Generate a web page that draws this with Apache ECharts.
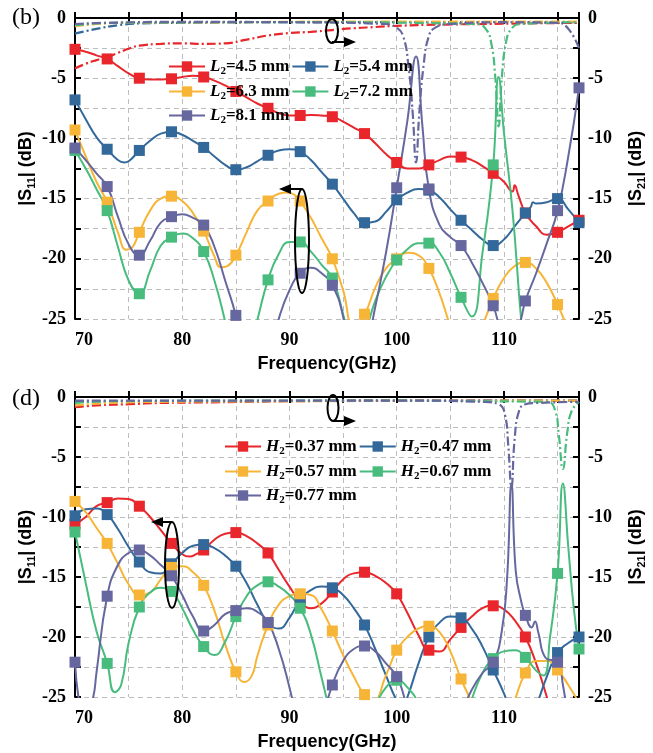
<!DOCTYPE html>
<html><head><meta charset="utf-8">
<script src="https://cdn.jsdelivr.net/npm/echarts@6/dist/echarts.min.js"></script>
<style>html,body{margin:0;padding:0;background:#fff}#c{width:653px;height:753px}</style>
</head><body><div id="c"></div>
<script>
// ---------- data ----------
const L2_labels = ['4.5', '5.4', '6.3', '7.2', '8.1'];
const H2_labels = ['0.37', '0.47', '0.57', '0.67', '0.77'];
const colors = ['#e8262b', '#33689b', '#f7b538', '#47bc7d', '#66679e'];

// Panel (b): |S11| vs frequency [GHz, dB]
const s11_L45 = [[70,-2.6],[71,-2.8],[72,-3.1],[73,-3.4],[74,-4.0],[75,-4.6],[76,-5.0],[77,-5.1],[78,-5.1],[79,-5.05],[80,-4.9],[81,-4.8],[82,-4.9],[83,-5.2],[84,-5.6],[85,-6.1],[86,-6.6],[87,-7.1],[88,-7.5],[89,-7.9],[90,-8.1],[91,-8.1],[92,-8.05],[93,-8.1],[94,-8.2],[95,-8.6],[96,-9.1],[97,-9.6],[98,-10.4],[99,-11.3],[100,-12.0],[101,-12.5],[102,-12.5],[103,-12.2],[104,-11.8],[105,-11.5],[106,-11.55],[107,-11.8],[108,-12.3],[109,-12.9],[110,-13.6],[110.8,-14.4],[111,-13.9],[111.3,-14.6],[112,-16.2],[113,-17.3],[114,-18.0],[115,-17.8],[116,-17.3],[117,-16.8]];
const s11_L54 = [[70,-6.8],[71,-8.4],[72,-9.9],[73,-10.9],[74,-11.8],[74.6,-12.0],[75,-11.9],[76,-11.0],[77,-10.2],[78,-9.6],[79,-9.45],[80,-9.7],[81,-10.2],[82,-10.75],[83,-11.5],[84,-12.2],[85,-12.6],[86,-12.4],[87,-11.9],[88,-11.4],[89,-11.0],[90,-10.9],[91,-11.1],[92,-11.8],[93,-12.8],[94,-13.8],[95,-15.0],[96,-16.2],[97,-17.0],[98,-16.9],[99,-16.1],[100,-15.1],[101,-14.5],[102,-14.2],[103,-14.3],[104,-14.9],[105,-15.9],[106,-16.8],[107,-17.6],[108,-18.4],[109,-18.9],[110,-18.4],[111,-17.3],[112,-16.2],[112.5,-15.7],[112.7,-15.3],[113,-15.4],[114,-15.3],[115,-15.0],[116,-15.9],[117,-17.0]];
const s11_L63 = [[70,-9.3],[71,-11.5],[72,-13.6],[73,-15.3],[74,-17.8],[74.8,-19.25],[75.3,-19.1],[76,-17.8],[77,-16.0],[78,-15.0],[79,-14.8],[80,-15.2],[81,-16.2],[82,-17.7],[83,-19.8],[83.6,-20.7],[84.2,-20.6],[85,-19.7],[86,-17.8],[87,-16.0],[88,-15.2],[89,-14.6],[89.8,-14.5],[90.5,-14.7],[91,-15.2],[92,-16.6],[93,-18.3],[94,-20.0],[95,-22.6],[96,-25.6],[97,-24.6],[98,-22.4],[99,-20.8],[100,-20.0],[101,-19.5],[102,-19.7],[103,-20.8],[104,-22.9],[105,-25.6],[106,-28],[107,-28],[108,-25.6],[109,-23.3],[110,-21.6],[111,-20.6],[112,-20.3],[113,-20.8],[114,-22.0],[115,-23.8],[116,-26],[117,-29]];
const s11_L72 = [[70,-11.0],[71,-12.5],[72,-14.2],[73,-16.0],[74,-19.0],[75,-21.8],[76,-22.9],[77,-21.0],[78,-18.9],[79,-18.2],[80,-17.9],[81,-18.3],[82,-19.4],[83,-21.8],[84,-25.2],[85,-29],[86,-28.5],[87,-25.1],[88,-21.75],[89,-19.6],[90,-18.6],[91,-18.6],[92,-19.4],[93,-20.5],[94,-21.6],[95,-24.6],[96,-28],[97,-26.2],[98,-23.5],[99,-21.5],[100,-20.1],[101,-19.2],[102,-18.7],[103,-18.7],[104,-19.5],[105,-21.2],[106,-23.2],[107,-24.8],[108,-19.5],[109,-12.2],[109.5,-4.9],[110,-9.5],[110.8,-16],[111.6,-25],[112,-28]];
const s11_L81 = [[70,-10.8],[71,-11.8],[72,-12.9],[73,-14.0],[74,-16.5],[75,-18.8],[76,-19.7],[77,-18.5],[78,-17.0],[79,-16.5],[80,-16.3],[81,-16.6],[82,-17.2],[83,-19.0],[84,-21.8],[85,-24.7],[86,-28.5],[87,-30],[88,-28.5],[89,-25],[90,-22.6],[91,-21.2],[92,-20.75],[93,-21.2],[94,-22.2],[95,-24.8],[96,-30],[97,-28],[98,-24],[99,-19.5],[100,-14.1],[101,-8.5],[101.8,-3.2],[102.4,-9],[103,-14.2],[104,-17.2],[105,-18.2],[106,-18.9],[107,-20.3],[108,-22.0],[109,-23.9],[110,-26.5],[111,-27],[111.6,-25],[112,-23.5],[113,-21.2],[114,-18.7],[115,-16.0],[116,-11.5],[117,-5.8]];

// Panel (b): |S21|
const s21_L45 = [[70,-4.2],[71,-3.8],[72,-3.5],[73,-3.25],[74,-2.9],[75,-2.55],[76,-2.3],[78,-2.15],[80,-2.1],[82,-2.15],[84,-2.1],[86,-1.8],[88,-1.45],[90,-1.25],[92,-1.15],[94,-1.0],[96,-0.85],[98,-0.75],[100,-0.65],[104,-0.55],[108,-0.5],[112,-0.45],[117,-0.4]];
const s21_L54 = [[70,-1.3],[72,-0.9],[74,-0.6],[76,-0.45],[80,-0.4],[90,-0.35],[100,-0.35],[110,-0.35],[117,-0.35]];
const s21_L63 = [[70,-0.7],[72,-0.5],[75,-0.4],[85,-0.35],[95,-0.3],[105,-0.3],[117,-0.3]];
const s21_L72 = [[70,-0.6],[72,-0.45],[75,-0.38],[90,-0.35],[107.5,-0.5],[108.3,-0.9],[108.8,-2],[109.2,-5],[109.5,-9],[109.8,-5],[110.2,-2],[110.7,-0.9],[111.5,-0.5],[117,-0.35]];
const s21_L81 = [[70,-0.5],[73,-0.4],[80,-0.32],[90,-0.35],[99,-0.5],[100,-0.8],[100.6,-1.5],[101.1,-4],[101.5,-8],[101.8,-12],[102.1,-8],[102.5,-4],[103,-1.5],[103.6,-0.8],[105,-0.5],[110,-0.35],[115,-0.4],[116,-0.9],[117,-2.5]];

// Panel (d): |S11|
const s11_H37 = [[70,-10.6],[71,-10.0],[72,-9.1],[73,-8.8],[74,-8.45],[75,-8.5],[76,-9.1],[77,-10.0],[78,-11.1],[79,-12.2],[80,-13.1],[80.7,-13.3],[81.3,-13.1],[82,-12.75],[83,-11.9],[84,-11.4],[85,-11.3],[86,-11.6],[87,-12.2],[88,-13.0],[89,-14.4],[90,-15.8],[91,-17.0],[92,-17.6],[93,-17.2],[94,-16.25],[95,-15.2],[96,-14.7],[97,-14.6],[98,-14.9],[99,-15.5],[100,-16.4],[101,-18.0],[102,-19.8],[103,-21.1],[104,-21.2],[105,-20.2],[106,-19.2],[107,-18.3],[108,-17.6],[109,-17.4],[110,-17.7],[111,-18.6],[112,-20.0],[113,-22.2],[114,-25],[115,-28]];
const s11_H47 = [[70,-9.9],[71,-9.35],[72,-9.3],[73,-9.8],[74,-11.0],[75,-12.5],[76,-13.75],[77,-14.6],[78,-14.7],[79,-13.9],[80,-13.0],[81,-12.4],[82,-12.3],[83,-12.6],[84,-13.2],[85,-14.1],[86,-15.5],[87,-17.3],[88,-18.8],[89,-19.3],[90,-18.4],[91,-16.9],[92,-16.1],[93,-15.8],[94,-15.9],[95,-16.5],[96,-17.6],[97,-19.0],[98,-21.0],[99,-23.2],[100,-25.3],[100.5,-25.8],[101,-25],[102,-22.3],[103,-20.0],[104,-18.8],[105,-18.3],[106,-18.4],[107,-19.3],[108,-20.8],[109,-22.75],[110,-24.7],[111,-27],[112,-28],[113,-25.8],[114,-23.3],[115,-21.3],[116,-20.5],[117,-20.0]];
const s11_H57 = [[70,-8.7],[71,-9.6],[72,-10.9],[73,-12.2],[74,-13.9],[75,-15.6],[76,-16.5],[77,-16.3],[78,-15.2],[79,-14.2],[80,-14.1],[81,-14.6],[82,-15.7],[83,-17.8],[84,-20.6],[85,-22.9],[85.8,-23.75],[86.5,-23.2],[87,-21.6],[88,-19.0],[89,-17.3],[90,-16.6],[91,-16.4],[92,-16.5],[93,-17.7],[94,-19.5],[95,-21.5],[96,-23.3],[97,-24.8],[97.8,-25.3],[99,-23.2],[100,-21.1],[101,-20.0],[102,-19.3],[103,-19.1],[104,-19.6],[105,-21.2],[106,-23.5],[107,-25.5],[108,-28],[109,-29],[110,-28],[111,-25.3],[112,-23.0],[113,-22.0],[114,-22.0],[115,-22.75],[116,-24],[117,-25.5]];
const s11_H67 = [[70,-11.25],[71,-15.5],[72,-19.5],[73,-22.2],[73.7,-24.6],[74.3,-24.0],[75,-20.5],[76,-17.5],[77,-16.3],[78,-15.9],[79,-16.2],[80,-17.6],[81,-19.4],[82,-20.8],[83,-21.5],[84,-20.4],[85,-18.3],[86,-16.6],[87,-15.7],[88,-15.4],[89,-15.8],[90,-16.5],[91,-17.6],[92,-19.8],[93,-23.4],[94,-27],[95,-30],[96,-30],[97,-28],[98,-25.8],[99,-24.2],[100,-23.6],[101,-24.2],[102,-25.6],[103,-29],[104,-31],[105,-31],[106,-28],[107,-25.2],[108,-23.0],[109,-21.8],[110,-21.2],[111,-21.1],[112,-21.7],[113,-22.8],[113.7,-23.2],[114.3,-20],[115,-14.7],[115.5,-7.2],[116,-12.5],[116.5,-17.5],[117,-21.0]];
const s11_H77 = [[70,-22.1],[70.5,-26],[71,-27],[71.7,-25],[72,-23.0],[73,-16.6],[74,-14.0],[75,-13.0],[76,-12.75],[77,-13.2],[78,-14.0],[79,-14.9],[80,-16.5],[81,-18.3],[82,-19.5],[83,-19.0],[84,-18.1],[85,-17.8],[86,-17.6],[87,-17.9],[88,-18.8],[89,-21.0],[90,-24.2],[91,-28],[92,-30],[93,-27],[94,-24.0],[95,-22.0],[96,-21.0],[97,-20.75],[98,-21.2],[99,-22.2],[100,-23.3],[100.7,-25],[101.5,-27.5],[102.5,-30],[104,-31],[105,-29],[106,-26.5],[107,-24.4],[108,-23.0],[109,-22.1],[109.8,-19.5],[110.3,-15],[110.7,-7.3],[111.1,-14.5],[111.6,-17.0],[112,-18.2],[112.6,-19.2],[112.9,-18.7],[113.2,-19.6],[113.9,-21.75],[115,-22.1],[115.5,-24],[116,-27]];

// Panel (d): |S21|
const s21_H37 = [[70,-0.85],[72,-0.7],[75,-0.6],[78,-0.5],[82,-0.45],[86,-0.4],[90,-0.35],[100,-0.3],[117,-0.3]];
const s21_H47 = [[70,-0.4],[80,-0.35],[117,-0.3]];
const s21_H57 = [[70,-0.7],[73,-0.5],[78,-0.4],[90,-0.35],[117,-0.3]];
const s21_H67 = [[70,-0.5],[73,-0.35],[90,-0.3],[114,-0.4],[114.8,-1.2],[115.1,-3],[115.5,-6],[115.9,-3],[116.3,-1.2],[117,-0.4]];
const s21_H77 = [[70,-0.3],[80,-0.3],[100,-0.3],[108,-0.4],[109.5,-0.6],[110.1,-1.5],[110.4,-4],[110.7,-7.5],[111,-3.5],[111.4,-1.2],[112,-0.6],[113,-0.5],[117,-0.4]];

// ---------- build ----------
const FS = 'Liberation Serif, Times New Roman, serif';
const FA = 'Liberation Sans, Arial, sans-serif';
const nameL = L2_labels.map(v => 'L2=' + v + ' mm');
const nameH = H2_labels.map(v => 'H2=' + v + ' mm');
const topS11 = [s11_L45, s11_L54, s11_L63, s11_L72, s11_L81];
const topS21 = [s21_L45, s21_L54, s21_L63, s21_L72, s21_L81];
const botS11 = [s11_H37, s11_H47, s11_H57, s11_H67, s11_H77];
const botS21 = [s21_H37, s21_H47, s21_H57, s21_H67, s21_H77];

function isMarker(f) {
  const k = (f - 70) / 3;
  return (Math.abs(k - Math.round(k)) < 1e-6 && f <= 115) || f === 117;
}
function markData(arr) {
  return arr.map(p => isMarker(p[0]) ? p : { value: p, symbol: 'none' });
}
const series = [];
function addPanel(s11, s21, names, gi) {
  s21.forEach((d, i) => series.push({
    type: 'line', name: 's21_' + gi + '_' + i, xAxisIndex: gi * 2, yAxisIndex: gi * 2 + 1,
    data: d, smooth: 0.5, showSymbol: false, symbol: 'none', clip: true,
    lineStyle: { color: colors[i], width: 2.2, type: [9, 3, 2, 3] }, itemStyle: { color: colors[i] }, z: 2
  }));
  s11.forEach((d, i) => series.push({
    type: 'line', name: names[i], xAxisIndex: gi * 2, yAxisIndex: gi * 2,
    data: markData(d), smooth: 0.5, symbol: 'rect', symbolSize: 11, showAllSymbol: true, clip: true,
    lineStyle: { color: colors[i], width: 2 }, itemStyle: { color: colors[i] }, z: 3
  }));
}
addPanel(topS11, topS21, nameL, 0);
addPanel(botS11, botS21, nameH, 1);

const tickLbl = { fontFamily: FS, fontWeight: 'bold', fontSize: 18, color: '#000' };
const axLine = { show: true, lineStyle: { color: '#000', width: 2 } };
const axTick = { show: true, inside: true, length: 6, lineStyle: { color: '#000', width: 2 } };
const split = { show: true, lineStyle: { color: '#bdbdbd', width: 1, type: [5, 4] } };
const nameStyle = { fontFamily: FA, fontWeight: 'bold', fontSize: 18, color: '#000', lineHeight: 22,
  rich: { s: { fontFamily: FA, fontWeight: 'bold', fontSize: 11, lineHeight: 10, verticalAlign: 'bottom', color: '#000' } } };

const xAxes = [], yAxes = [];
[0, 1].forEach(gi => {
  xAxes.push({ gridIndex: gi, type: 'value', min: 70, max: 117, interval: 5, position: 'bottom',
    axisLine: axLine, axisTick: axTick, splitLine: split,
    axisLabel: { ...tickLbl, margin: 12, alignMinLabel: 'left', formatter: v => (v % 10 === 0 ? String(v) : '') },
    name: 'Frequency(GHz)', nameLocation: 'middle', nameGap: 36, nameMoveOverlap: false,
    nameTextStyle: { fontFamily: FA, fontWeight: 'bold', fontSize: 18, color: '#000' } });
  xAxes.push({ gridIndex: gi, type: 'value', min: 70, max: 117, interval: 5, position: 'top',
    axisLine: axLine, axisTick: axTick, splitLine: { show: false }, axisLabel: { show: false } });
  yAxes.push({ gridIndex: gi, type: 'value', min: -25, max: 0, interval: 2.5, position: 'left',
    axisLine: axLine, axisTick: axTick, splitLine: split,
    axisLabel: { ...tickLbl, margin: 9, formatter: v => (v % 5 === 0 ? String(v) : '') },
    name: '|S{s|11}| (dB)', nameLocation: 'middle', nameGap: 38, nameRotate: 90, nameMoveOverlap: false, nameTextStyle: nameStyle });
  yAxes.push({ gridIndex: gi, type: 'value', min: -25, max: 0, interval: 2.5, position: 'right',
    axisLine: axLine, axisTick: axTick, splitLine: { show: false },
    axisLabel: { ...tickLbl, margin: 9, formatter: v => (v % 5 === 0 ? String(v) : '') },
    name: '|S{s|21}| (dB)', nameLocation: 'middle', nameGap: 46, nameRotate: 90, nameMoveOverlap: false, nameTextStyle: nameStyle });
});

const legendCommon = {
  orient: 'horizontal', itemWidth: 36, itemHeight: 13, itemGap: 2, padding: 0, selectedMode: false,
  formatter: function (n) { const m = n.match(/^(\w)2=(.*)$/); return '{i|' + m[1] + '}{s|2}{t|=' + m[2] + '}'; },
  textStyle: { padding: [0, 0, 0, 0], rich: {
    i: { fontFamily: FS, fontStyle: 'italic', fontWeight: 'bold', fontSize: 17, lineHeight: 20, color: '#000' },
    s: { fontFamily: FS, fontWeight: 'bold', fontSize: 11, lineHeight: 9, verticalAlign: 'bottom', color: '#000' },
    t: { fontFamily: FS, fontWeight: 'bold', fontSize: 17, lineHeight: 20, color: '#000' } } }
};
const legends = [
  { data: [nameL[0], nameL[1]], left: 168, top: 58 },
  { data: [nameL[2], nameL[3]], left: 168, top: 83 },
  { data: [nameL[4]], left: 168, top: 107 },
  { data: [nameH[0], nameH[1]], left: 224, top: 438 },
  { data: [nameH[2], nameH[3]], left: 224, top: 463 },
  { data: [nameH[4]], left: 224, top: 487 }
].map(l => ({ ...legendCommon, ...l }));

function arrow(x1, y1, x2, y2) {
  const dir = Math.sign(x2 - x1);
  return [
    { type: 'line', shape: { x1: x1, y1: y1, x2: x2 - dir * 8, y2: y2 }, style: { stroke: '#000', lineWidth: 2 }, z: 10 },
    { type: 'polygon', shape: { points: [[x2, y2], [x2 - dir * 12, y2 - 5], [x2 - dir * 12, y2 + 5]] }, style: { fill: '#000' }, z: 10 }
  ];
}
function ell(cx, cy, rx, ry) {
  return { type: 'ellipse', shape: { cx: cx, cy: cy, rx: rx, ry: ry }, style: { fill: 'none', stroke: '#000', lineWidth: 2 }, z: 10 };
}
const graphics = [
  { type: 'text', left: 12, top: 6, style: { text: '(b)', font: '24px ' + FS, fill: '#000' } },
  { type: 'text', left: 12, top: 387, style: { text: '(d)', font: '24px ' + FS, fill: '#000' } },
  ell(302, 241, 7, 52), ...arrow(302, 189, 279, 189),
  ell(332, 31, 6, 12), ...arrow(332, 42, 356, 42),
  ell(172, 565, 7, 43), ...arrow(172, 522, 151, 522),
  ell(333, 408, 5.5, 13), ...arrow(333, 421, 356, 421)
];

const chart = echarts.init(document.getElementById('c'), null, { renderer: 'canvas' });
chart.setOption({
  animation: false,
  backgroundColor: '#fff',
  grid: [
    { left: 75, top: 18, width: 504, height: 301, containLabel: false, outerBoundsMode: 'none' },
    { left: 75, top: 397, width: 504, height: 300, containLabel: false, outerBoundsMode: 'none' }
  ],
  xAxis: xAxes, yAxis: yAxes, legend: legends, series: series, graphic: graphics
});
</script></body></html>
